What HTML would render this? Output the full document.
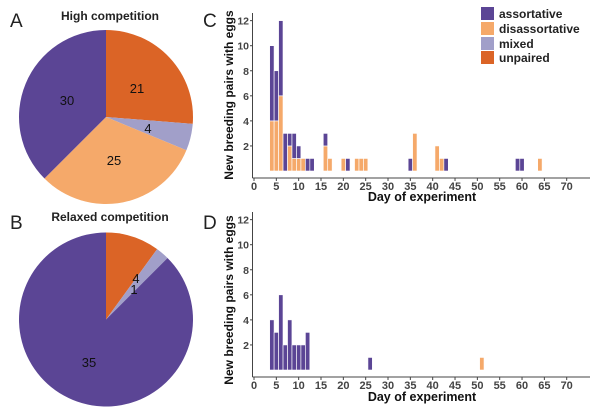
<!DOCTYPE html>
<html><head><meta charset="utf-8"><style>
html,body{margin:0;padding:0;background:#fff;}
svg{display:block;font-family:"Liberation Sans",sans-serif;}
</style></head><body>
<svg id="s" width="600" height="412" viewBox="0 0 600 412" xmlns="http://www.w3.org/2000/svg">
<rect width="600" height="412" fill="#fff"/>
<g font-size="19" fill="#222">
<text x="10" y="27">A</text><text x="10" y="229">B</text>
<text x="203" y="27">C</text><text x="203" y="229">D</text>
</g>
<g font-size="12" font-weight="bold" fill="#222" text-anchor="middle">
<text x="110" y="20">High competition</text>
<text x="110" y="221">Relaxed competition</text>
</g>
<g id="pies"></g>
<g font-size="13" fill="#111" text-anchor="middle">
<text x="67" y="105">30</text><text x="137" y="93">21</text><text x="148" y="133">4</text><text x="114" y="165">25</text>
<text x="136" y="283">4</text><text x="134" y="294">1</text><text x="89" y="367">35</text>
</g>
<g id="charts"></g>
<g font-size="12" font-weight="bold" fill="#222">
<rect x="481" y="7" width="13" height="13" fill="#5b4595"/><text x="499" y="18">assortative</text>
<rect x="481" y="22" width="13" height="13" fill="#f5a96a"/><text x="499" y="33">disassortative</text>
<rect x="481" y="37" width="13" height="13" fill="#a19fc9"/><text x="499" y="48">mixed</text>
<rect x="481" y="51" width="13" height="13" fill="#db6426"/><text x="499" y="62">unpaired</text>
</g>
</svg>
<script>
var NS="http://www.w3.org/2000/svg";
function el(p,t,a,txt){var e=document.createElementNS(NS,t);for(var k in a)e.setAttribute(k,a[k]);if(txt!==undefined)e.textContent=txt;p.appendChild(e);return e;}
var C={a:"#5b4595",d:"#f5a96a",m:"#a19fc9",u:"#db6426"};
function pie(cx,cy,r,parts){var tot=0;parts.forEach(function(p){tot+=p[1]});var ang=0;var g=document.getElementById("pies");
parts.forEach(function(p){var a0=ang,a1=ang+p[1]/tot*2*Math.PI;ang=a1;
var x0=cx+r*Math.sin(a0),y0=cy-r*Math.cos(a0),x1=cx+r*Math.sin(a1),y1=cy-r*Math.cos(a1);
var large=(a1-a0)>Math.PI?1:0;
el(g,"path",{d:"M"+cx+","+cy+"L"+x0+","+y0+"A"+r+","+r+" 0 "+large+" 1 "+x1+","+y1+"Z",fill:C[p[0]]});});}
pie(106,117,87,[["u",21],["m",4],["d",25],["a",30]]);
pie(106,319.5,87,[["u",4],["m",1],["a",35]]);
var g=document.getElementById("charts");
var X0=254,DX=312.7/70,UY=12.53;
function chart(zero,axisY,data,ylab,xlabY){
 el(g,"line",{x1:252.5,y1:axisY-165,x2:252.5,y2:axisY,stroke:"#444","stroke-width":1});
 el(g,"line",{x1:252.5,y1:axisY,x2:590,y2:axisY,stroke:"#444","stroke-width":1});
 for(var v=2;v<=12;v+=2){var y=zero-v*UY;el(g,"line",{x1:250,y1:y,x2:252.5,y2:y,stroke:"#444"});
  el(g,"text",{x:249,y:y+4,"font-size":10.5,"font-weight":"bold",fill:"#444","text-anchor":"end"},v);}
 for(var d=0;d<=70;d+=5){var x=X0+d*DX;el(g,"line",{x1:x,y1:axisY,x2:x,y2:axisY+3,stroke:"#444"});
  el(g,"text",{x:x,y:axisY+12,"font-size":11,"font-weight":"bold",fill:"#444","text-anchor":"middle"},d);}
 el(g,"text",{x:422,y:xlabY,"font-size":12.5,"font-weight":"bold",fill:"#111","text-anchor":"middle"},"Day of experiment");
 el(g,"text",{x:0,y:0,"font-size":12,"font-weight":"bold",fill:"#111","text-anchor":"middle",transform:"translate(233,"+ylab+") rotate(-90)"},"New breeding pairs with eggs");
 data.forEach(function(r){var x=X0+r[0]*DX-2.2;var y=zero;
  [["d",r[2]],["a",r[1]]].forEach(function(s){if(s[1]>0){var h=s[1]*UY;y-=h;
   el(g,"rect",{x:x,y:y,width:4.4,height:h,fill:C[s[0]],stroke:"#fff","stroke-width":0.6});}});});
}
chart(171,178,[[4,6,4],[5,4,4],[6,6,6],[7,3,0],[8,1,2],[9,2,1],[10,1,1],[11,0,1],[12,1,0],[13,1,0],[16,1,2],[17,0,1],[20,0,1],[21,1,0],[23,0,1],[24,0,1],[25,0,1],[35,1,0],[36,0,3],[41,0,2],[42,0,1],[43,1,0],[59,1,0],[60,1,0],[64,0,1]],95,201);
chart(370,377,[[4,4,0],[5,3,0],[6,6,0],[7,2,0],[8,4,0],[9,2,0],[10,2,0],[11,2,0],[12,3,0],[26,1,0],[51,0,1]],300,401);
</script>
</body></html>
